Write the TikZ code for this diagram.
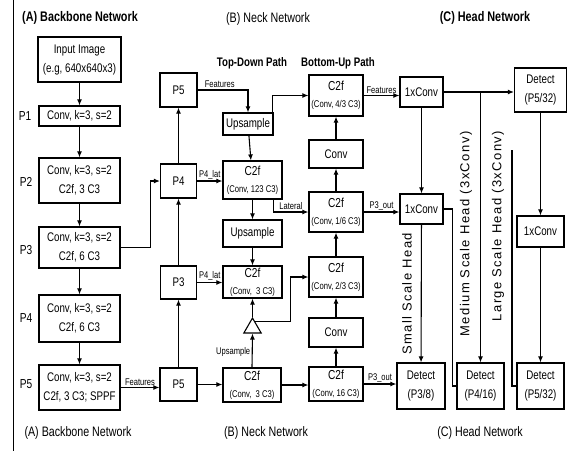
\documentclass[tikz,border=0pt]{standalone}
\usepackage{fontspec}
\setmainfont{Liberation Sans}[FakeStretch=0.78]
\newfontfamily\rotfont{Liberation Sans}[LetterSpace=11]
\usepackage{tikz}
\usetikzlibrary{arrows.meta, positioning, shapes.geometric, calc}

\newcommand{\ctwof}[1]{C2f\\{\fontsize{9.8}{17}\selectfont(Conv, #1)}}

\begin{document}
\begin{tikzpicture}[x=1pt, y=-1pt,
    box/.style={draw, line width=1.2pt, fill=white, inner sep=1pt, align=center,
      font=\fontsize{12.5}{19}\selectfont},
    cbox/.style={box, font=\fontsize{13}{17}\selectfont},
    arr/.style={line width=1.1pt, -{Latex[length=6pt, width=5pt]}},
    ln/.style={line width=1.1pt},
    lbl/.style={font=\fontsize{9.7}{10}\selectfont, inner sep=1.5pt},
    side/.style={font=\fontsize{13}{14}\selectfont},
    ttl/.style={font=\fontsize{13.9}{15}\selectfont\bfseries},
    sub/.style={font=\fontsize{13.7}{15}\selectfont},
    path/.style={font=\fontsize{12.4}{14}\selectfont\bfseries},
    rot/.style={rotate=90, font=\rotfont\fontsize{13}{14}\selectfont}]
        \useasboundingbox (0,0) rectangle (573,451);
        \fill[white] (0,0) rectangle (573,451);
        \draw[line width=1pt] (13,0) -- (13,451);
        % Titles
        \node[ttl] (tA) at (80,18) {(A) Backbone Network};
        \node[sub] (tB) at (268,19) {(B) Neck Network};
        \node[ttl] (tC) at (485,18) {(C) Head Network};
        \node[path] (ptd) at (252,63) {Top-Down Path};
        \node[path] (pbu) at (338,63) {Bottom-Up Path};
        \node[sub] (bA) at (78,433) {(A) Backbone Network};
        \node[sub] (bB) at (266,433) {(B) Neck Network};
        \node[sub] (bC) at (480,433) {(C) Head Network};
        % Backbone
        \node[box, minimum width=83, minimum height=45] (inp) at (79.5,59.5) {Input Image\\(e.g, 640x640x3)};
        \node[box, minimum width=81, minimum height=20] (b1) at (79.5,116) {Conv, k=3, s=2};
        \node[box, minimum width=81, minimum height=45] (b2) at (79.5,180.5) {Conv, k=3, s=2\\C2f, 3 C3};
        \node[box, minimum width=81, minimum height=41] (b3) at (79.5,247.5) {Conv, k=3, s=2\\C2f, 6 C3};
        \node[box, minimum width=81, minimum height=47] (b4) at (79.5,318.5) {Conv, k=3, s=2\\C2f, 6 C3};
        \node[box, minimum width=81, minimum height=45] (b5) at (79.5,387.5) {Conv, k=3, s=2\\C2f, 3 C3; SPPF};
        \node[side] (l1) at (25,116) {P1};
        \node[side] (l2) at (26,182) {P2};
        \node[side] (l3) at (26,250) {P3};
        \node[side] (l4) at (26,318) {P4};
        \node[side] (l5) at (26,384) {P5};
        \draw[arr] (inp) -- (b1);
        \draw[arr] (b1) -- (b2);
        \draw[arr] (b2) -- (b3);
        \draw[arr] (b3) -- (b4);
        \draw[arr] (b4) -- (b5);
        % Neck inputs
        \node[box, minimum width=37, minimum height=34] (n5t) at (178.5,90) {P5};
        \node[box, minimum width=36, minimum height=34] (n4) at (178.5,181) {P4};
        \node[box, minimum width=36, minimum height=33] (n3) at (178.5,282.5) {P3};
        \node[box, minimum width=37, minimum height=33] (n5b) at (178.5,384.5) {P5};
        \draw[arr] (b3.east) -- ++(30,0) |- (n4.west);
        \draw[arr] (b5.east) -- node[lbl, above] {Features} (b5.east -| n5b.west);
        \draw[arr] (n5b) -- (n3);
        \draw[arr] (n3) -- (n4);
        \draw[arr] (n4) -- (n5t);
        % Top-down path
        \node[box, minimum width=50, minimum height=22] (up1) at (248,124) {Upsample};
        \node[cbox, minimum width=59, minimum height=38] (c2f123) at (252.5,180) {\ctwof{123 C3}};
        \node[box, minimum width=59, minimum height=27] (up2) at (252.5,233.5) {Upsample};
        \node[cbox, minimum width=59, minimum height=32] (c2f3) at (252.5,282) {\ctwof{ 3 C3}};
        \node[draw, line width=1.1pt, regular polygon, regular polygon sides=3, minimum size=20, inner sep=0] (tri) at (252.5,328) {};
        \node[cbox, minimum width=58, minimum height=34] (c2f3b) at (252,385) {\ctwof{ 3 C3}};
        \draw[arr] (n5t.east) -| node[lbl, pos=0.22, above] {Features} (up1.north);
        \draw[arr] (up1) -- (c2f123);
        \draw[arr] (n4.east) -- node[lbl, above] {P4\_lat} (n4.east -| c2f123.west);
        \draw[arr] (c2f123) -- (up2);
        \draw[arr] (up2) -- (c2f3);
        \draw[arr] (n3.east) -- node[lbl, above] {P4\_lat} (n3.east -| c2f3.west);
        \draw[arr] (tri.corner 1) -- (c2f3.south);
        \draw[arr] (c2f3b.north) -- node[lbl, left, pos=0.45] {Upsample} (tri.south);
        \draw[arr] (n5b.east) -- (n5b.east -| c2f3b.west);
        % Bottom-up path
        \node[cbox, minimum width=54, minimum height=41] (c2f43) at (336,95.5) {\ctwof{4/3 C3}};
        \node[box, minimum width=54, minimum height=28] (conv1) at (336,154) {Conv};
        \node[cbox, minimum width=54, minimum height=40] (c2f16) at (336,212) {\ctwof{1/6 C3}};
        \node[cbox, minimum width=54, minimum height=40] (c2f23) at (336,277) {\ctwof{2/3 C3}};
        \node[box, minimum width=54, minimum height=29] (conv2) at (336,332.5) {Conv};
        \node[cbox, minimum width=54, minimum height=34] (c2f16b) at (336,384) {\ctwof{16 C3}};
        \draw[arr] ($(up1.north east)+(-1,0)$) |- (c2f43.west);
        \draw[arr] ($(c2f123.south east)+(-9,0)$) |- node[lbl, pos=0.75, above] {Lateral} (c2f16.west);
        \coordinate (trir) at ($(tri.corner 1)!0.3!(tri.corner 3)$);
        \draw[arr] (trir) -| ([xshift=-18pt]c2f23.west) -- (c2f23.west);
        \draw[arr] (c2f3b.east) -- (c2f3b.east -| c2f16b.west);
        \draw[arr] (c2f16b) -- (conv2);
        \draw[arr] (conv2) -- (c2f23);
        \draw[arr] (c2f23) -- (c2f16);
        \draw[arr] (c2f16) -- (conv1);
        \draw[arr] (conv1) -- (c2f43);
        % Head
        \node[box, minimum width=43, minimum height=30] (h1) at (421.5,92) {1xConv};
        \node[box, minimum width=52, minimum height=44] (det5t) at (540.5,90) {Detect\\(P5/32)};
        \node[box, minimum width=43, minimum height=30] (h2) at (421.5,209) {1xConv};
        \node[box, minimum width=47, minimum height=31] (h3) at (540.5,231.5) {1xConv};
        \node[box, minimum width=48, minimum height=46] (det3) at (421,386) {Detect\\(P3/8)};
        \node[box, minimum width=47, minimum height=46] (det4) at (480.5,386) {Detect\\(P4/16)};
        \node[box, minimum width=47, minimum height=46] (det5b) at (540.5,386) {Detect\\(P5/32)};
        \coordinate (lgtop) at (512,150);
        \draw[arr] (c2f43.east) -- node[lbl, above] {Features} (c2f43.east -| h1.west);
        \draw[arr] (c2f16.east) -- node[lbl, above] {P3\_out} (c2f16.east -| h2.west);
        \draw[arr] (c2f16b.east) -- node[lbl, above] {P3\_out} (c2f16b.east -| det3.west);
        \draw[arr] (h1.east) -- (h1.east -| det5t.west);
        \draw[arr] (h1.east -| det4.north) -- (det4.north);
        \draw[arr] (h1) -- (h2);
        \draw[arr] (h2) -- (det3);
        \draw[ln] (h2.east) -- ++(9,0) |- (det4.west);
        \draw[ln] (lgtop) |- (det5b.west);
        \draw[arr] (det5t) -- (h3);
        \draw[arr] (h3) -- (det5b);
        \node[rot] (sh) at (407,294) {Small Scale Head};
        \node[rot] (mh) at (466,234) {Medium Scale Head (3xConv)};
        \node[rot] (lh) at (498,226) {Large Scale Head (3xConv)};
\end{tikzpicture}
\end{document}
